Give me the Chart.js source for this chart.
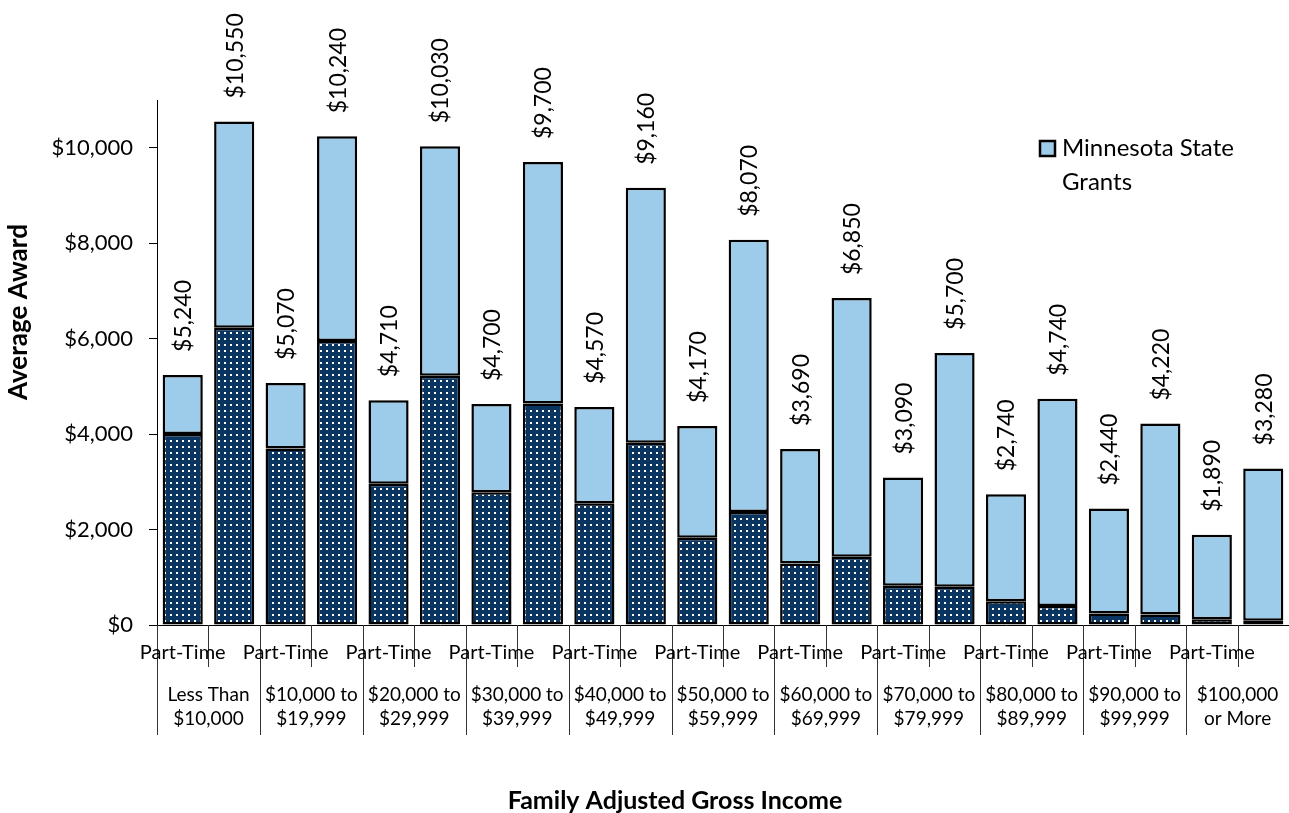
<!DOCTYPE html>
<html>
<head>
<meta charset="utf-8">
<script src="https://cdn.jsdelivr.net/npm/chart.js@4/dist/chart.umd.min.js"></script>
<style>
  html, body { margin: 0; padding: 0; background: #fff; }
  #wrap { width: 1289px; height: 813px; position: relative; }
</style>
</head>
<body>
<div id="wrap"><canvas id="chart"></canvas></div>
<script>
// ===== DATA =====
const barLabels = ['Part-Time', 'Full-Time', 'Part-Time', 'Full-Time', 'Part-Time', 'Full-Time',
    'Part-Time', 'Full-Time', 'Part-Time', 'Full-Time', 'Part-Time', 'Full-Time',
    'Part-Time', 'Full-Time', 'Part-Time', 'Full-Time', 'Part-Time', 'Full-Time',
    'Part-Time', 'Full-Time', 'Part-Time', 'Full-Time'];
const incomeGroups = [
    ['Less Than', '$10,000'], ['$10,000 to', '$19,999'], ['$20,000 to', '$29,999'],
    ['$30,000 to', '$39,999'], ['$40,000 to', '$49,999'], ['$50,000 to', '$59,999'],
    ['$60,000 to', '$69,999'], ['$70,000 to', '$79,999'], ['$80,000 to', '$89,999'],
    ['$90,000 to', '$99,999'], ['$100,000', 'or More']
];
// dark dotted segment (other grants)
const otherGrants = [4000, 6230, 3700, 5950, 2960, 5220, 2780, 4640, 2550, 3820, 1830,
    2370, 1290, 1430, 820, 800, 500, 400, 240, 220, 120, 90];
const stateGrants = [1240, 4320, 1370, 4290, 1750, 4810, 1850, 5060, 2020, 5340, 2340,
    5700, 2400, 5420, 2270, 4900, 2240, 4340, 2200, 4000, 1770, 3190];
const totalLabels = [5240, 10550, 5070, 10240, 4710, 10030, 4700, 9700, 4570, 9160, 4170,
    8070, 3690, 6850, 3090, 5700, 2740, 4740, 2440, 4220, 1890, 3280];
const yTicks = [0, 2000, 4000, 6000, 8000, 10000];

const FONT = "Lato, 'Open Sans', sans-serif";
const NAVY = '#0b3561';
const LIGHT = '#9dcbea';

// ===== DOT PATTERN =====
function dotPattern() {
    const c = document.createElement('canvas');
    c.width = 6; c.height = 6;
    const g = c.getContext('2d');
    g.fillStyle = NAVY;
    g.fillRect(0, 0, 6, 6);
    g.fillStyle = '#ffffff';
    g.fillRect(2, 2, 2, 2);
    return g.createPattern(c, 'repeat');
}

const money = v => '$' + v.toLocaleString('en-US');

// ===== CUSTOM DRAWING =====
const extras = {
    id: 'extras',
    afterDatasetsDraw(chart) {
        const ctx = chart.ctx;
        const x = chart.scales.x;
        const area = chart.chartArea;
        const topMeta = chart.getDatasetMeta(1);

        // value labels above bars
        ctx.save();
        ctx.fillStyle = '#000';
        ctx.font = '23px ' + FONT;
        ctx.textAlign = 'left';
        ctx.textBaseline = 'middle';
        topMeta.data.forEach((bar, i) => {
            ctx.save();
            ctx.translate(bar.x, bar.y - 23);
            ctx.rotate(-Math.PI / 2);
            ctx.fillText(money(totalLabels[i]), 0, 1);
            ctx.restore();
        });
        ctx.restore();

        // category separators and labels
        ctx.save();
        ctx.strokeStyle = '#333';
        ctx.lineWidth = 1;
        const n = barLabels.length;
        const step = (area.right - area.left) / n;
        for (let k = 0; k <= n; k++) {
            const bx = Math.round(area.left + k * step) + 0.5;
            ctx.beginPath();
            ctx.moveTo(bx, area.bottom);
            ctx.lineTo(bx, k % 2 === 0 ? 735 : 667);
            ctx.stroke();
        }
        ctx.fillStyle = '#000';
        ctx.textAlign = 'center';
        ctx.textBaseline = 'middle';
        ctx.font = '20px ' + FONT;
        barLabels.forEach((lab, i) => {
            if (i % 2 === 0) ctx.fillText(lab, x.getPixelForValue(i), 653);
        });
        ctx.font = '19px ' + FONT;
        incomeGroups.forEach((g, j) => {
            const cx = (x.getPixelForValue(2 * j) + x.getPixelForValue(2 * j + 1)) / 2;
            ctx.fillText(g[0], cx, 695);
            ctx.fillText(g[1], cx, 719);
        });

        // axis titles
        ctx.font = 'bold 25px ' + FONT;
        ctx.fillText('Family Adjusted Gross Income', 675, 801);
        ctx.save();
        ctx.translate(19, 312);
        ctx.rotate(-Math.PI / 2);
        ctx.font = 'bold 26px ' + FONT;
        ctx.fillText('Average Award', 0, 0);
        ctx.restore();

        // legend
        ctx.fillStyle = LIGHT;
        ctx.fillRect(1040, 141, 15, 15);
        ctx.strokeStyle = '#000';
        ctx.lineWidth = 2.5;
        ctx.strokeRect(1040, 141, 15, 15);
        ctx.fillStyle = '#000';
        ctx.textAlign = 'left';
        ctx.font = '24px ' + FONT;
        ctx.fillText('Minnesota State', 1062, 148);
        ctx.fillText('Grants', 1062, 182);
        ctx.restore();
    }
};

new Chart(document.getElementById('chart'), {
    type: 'bar',
    data: {
        labels: barLabels,
        datasets: [
            {
                label: 'Other Grants',
                data: otherGrants,
                backgroundColor: dotPattern(),
                borderColor: '#000', borderWidth: 2.5, borderSkipped: false,
                barPercentage: 0.78, categoryPercentage: 1
            },
            {
                label: 'Minnesota State Grants',
                data: stateGrants,
                backgroundColor: LIGHT,
                borderColor: '#000', borderWidth: 2.5, borderSkipped: false,
                barPercentage: 0.78, categoryPercentage: 1
            }
        ]
    },
    options: {
        responsive: true,
        maintainAspectRatio: false,
        animation: false,
        layout: { padding: { top: 100, left: 0, right: 0, bottom: 0 } },
        plugins: { legend: { display: false }, tooltip: { enabled: false } },
        scales: {
            x: {
                stacked: true,
                ticks: { display: false },
                grid: { display: false },
                border: { display: true, color: '#000', width: 1 },
                afterFit: s => { s.height = 188; }
            },
            y: {
                stacked: true,
                min: 0, max: 11000,
                afterBuildTicks: s => { s.ticks = yTicks.map(v => ({ value: v })); },
                ticks: {
                    color: '#000', padding: 16,
                    font: { family: FONT, size: 22 },
                    callback: v => money(v)
                },
                grid: { drawOnChartArea: false, drawTicks: true, tickLength: 8, color: '#000' },
                border: { display: true, color: '#000', width: 1 },
                afterFit: s => { s.width = 157; }
            }
        }
    },
    plugins: [extras]
});
</script>
</body>
</html>
